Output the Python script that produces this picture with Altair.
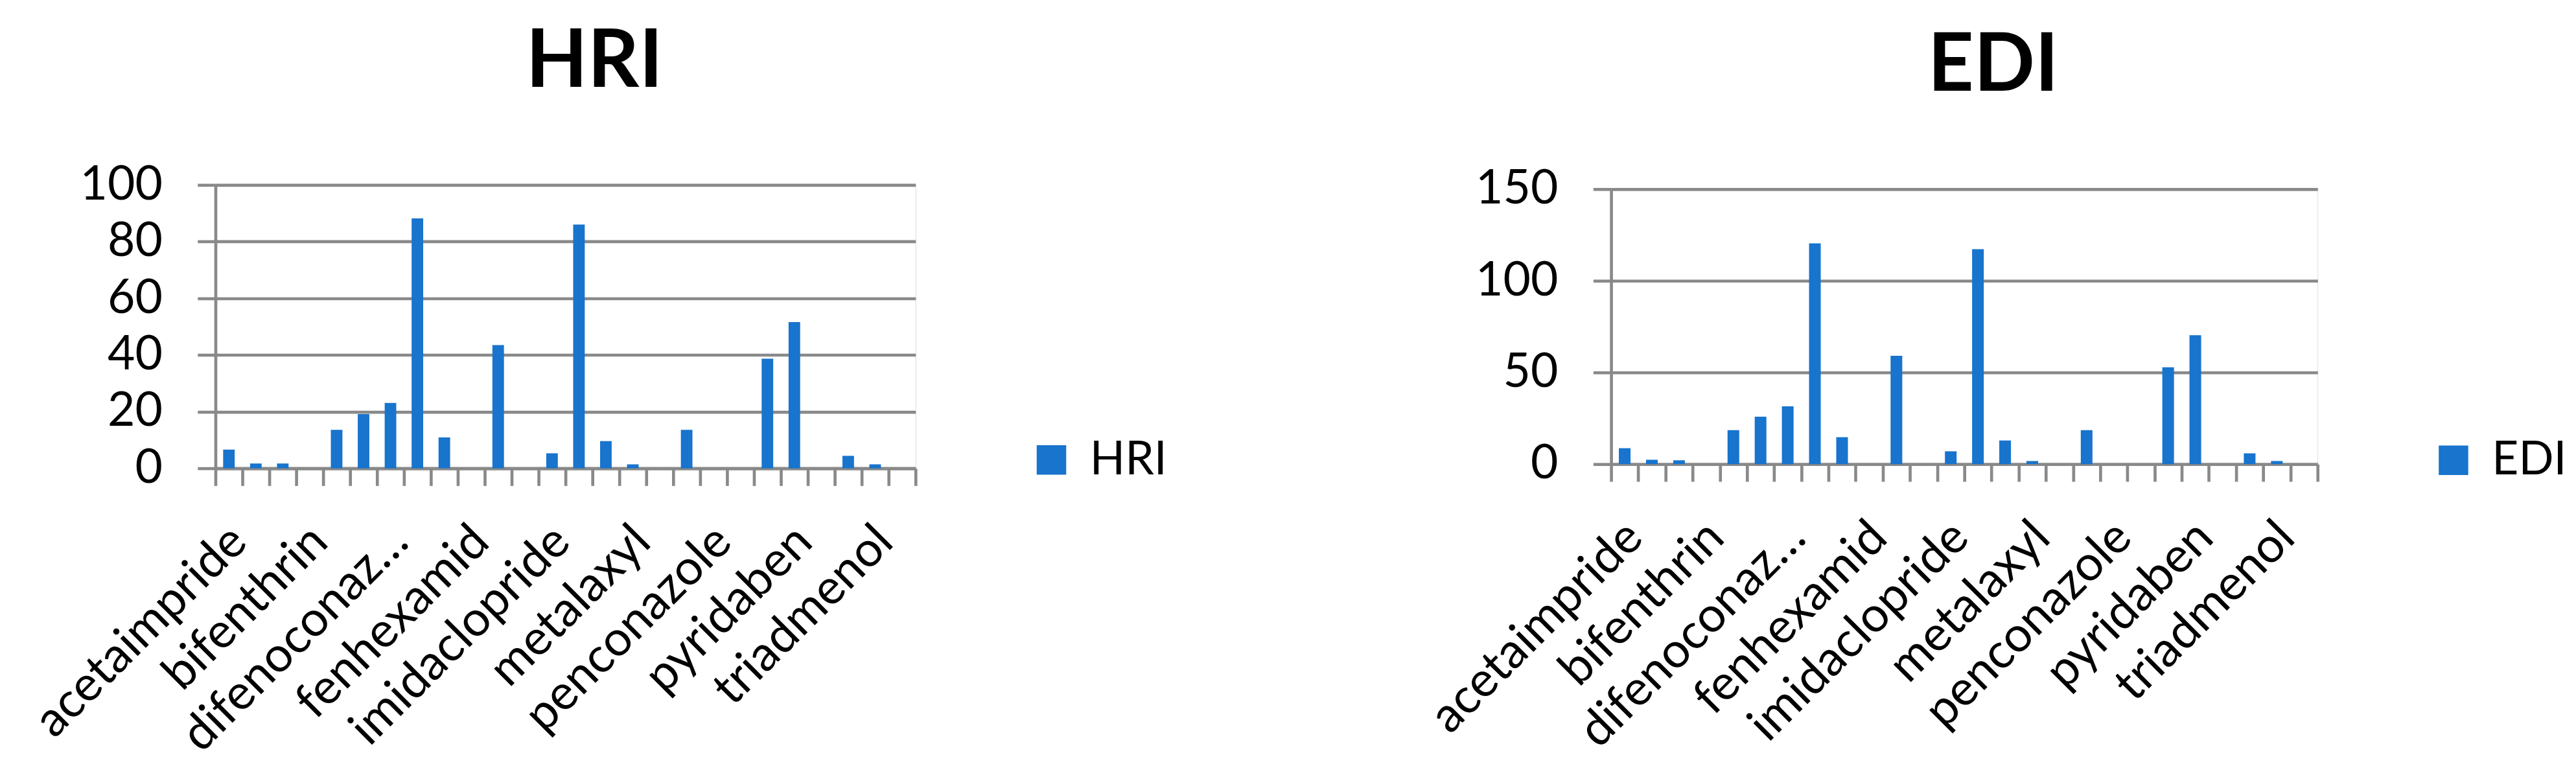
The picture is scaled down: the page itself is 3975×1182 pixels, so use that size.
import altair as alt
import pandas as pd

categories = [
    "acetaimpride", "unlabelled 2", "unlabelled 3", "bifenthrin", "unlabelled 5",
    "unlabelled 6", "difenoconazole", "unlabelled 8", "unlabelled 9", "fenhexamid",
    "unlabelled 11", "unlabelled 12", "imidaclopride", "unlabelled 14", "unlabelled 15",
    "metalaxyl", "unlabelled 17", "unlabelled 18", "penconazole", "unlabelled 20",
    "unlabelled 21", "pyridaben", "unlabelled 23", "unlabelled 24", "triadmenol",
    "unlabelled 26",
]
shown_labels = ["acetaimpride", "bifenthrin", "difenoconazole", "fenhexamid",
                "imidaclopride", "metalaxyl", "penconazole", "pyridaben", "triadmenol"]
hri_values = [6.6, 1.7, 1.7, 0, 13.6, 19.1, 23.1, 88.2, 10.9, 0, 43.5, 0, 5.3,
              86.0, 9.6, 1.4, 0, 13.6, 0, 0, 38.7, 51.6, 0, 4.4, 1.4, 0]
edi_values = [8.7, 2.4, 2.1, 0, 18.5, 25.9, 31.5, 120.4, 14.7, 0, 59.1, 0, 7.0,
              117.2, 12.9, 1.7, 0, 18.5, 0, 0, 52.8, 70.3, 0, 5.9, 1.7, 0]
hri_ticks = [0, 20, 40, 60, 80, 100]
edi_ticks = [0, 50, 100, 150]

BLUE = "#1874CD"
GREY = "#898989"
FONT = "Lato"

shown_js = "[" + ",".join("'" + s + "'" for s in shown_labels) + "]"
label_expr = (
    f"indexof({shown_js}, datum.value) >= 0 ? "
    "(datum.value == 'difenoconazole' ? 'difenoconaz\u2026' : datum.value) : ''"
)


def panel(name, values, ticks, width, height, legend_x, legend_y):
    df = pd.DataFrame({"pesticide": categories, "value": values, "series": name})
    return (
        alt.Chart(df)
        .mark_bar(width=alt.RelativeBandSize(0.43))
        .encode(
            x=alt.X(
                "pesticide:N",
                sort=categories,
                scale=alt.Scale(paddingInner=0, paddingOuter=0),
                axis=alt.Axis(
                    title=None,
                    labelExpr=label_expr,
                    labelAngle=-45,
                    labelAlign="right",
                    labelBaseline="middle",
                    labelFontSize=76,
                    labelFont=FONT,
                    labelColor="black",
                    labelPadding=75,
                    labelOffset=15,
                    labelOverlap=False,
                    labelLimit=1000,
                    tickBand="extent",
                    tickSize=27,
                    tickWidth=4.7,
                    tickColor=GREY,
                    domainColor=GREY,
                    domainWidth=4.7,
                    grid=False,
                ),
            ),
            y=alt.Y(
                "value:Q",
                scale=alt.Scale(domain=[ticks[0], ticks[-1]], nice=False),
                axis=alt.Axis(
                    title=None,
                    values=ticks,
                    labelFontSize=74,
                    labelFont=FONT,
                    labelColor="black",
                    labelPadding=55,
                    tickSize=28,
                    tickWidth=4.7,
                    tickColor=GREY,
                    domainColor=GREY,
                    domainWidth=4.7,
                    grid=True,
                    gridColor=GREY,
                    gridWidth=4.7,
                ),
            ),
            color=alt.Color(
                "series:N",
                scale=alt.Scale(range=[BLUE]),
                legend=alt.Legend(
                    title=None,
                    orient="none",
                    legendX=legend_x,
                    legendY=legend_y,
                    symbolType="square",
                    symbolSize=2116,
                    symbolStrokeWidth=0,
                    labelFontSize=72,
                    labelFont=FONT,
                    labelColor="black",
                    labelOffset=24,
                    padding=0,
                ),
            ),
        )
        .properties(
            width=width,
            height=height,
            title=alt.TitleParams(
                name, fontSize=125, font=FONT, fontWeight="bold", color="black",
                anchor="middle", dx=45, offset=90,
            ),
        )
    )


hri = panel("HRI", hri_values, hri_ticks, 1092, 442, 1268, 393)
edi = panel("EDI", edi_values, edi_ticks, 1102, 429, 1278, 387)

chart = (
    alt.hconcat(hri, edi, spacing=1085, center=True, bounds="flush")
    .resolve_scale(color="independent")
    .properties(padding={"left": 32, "top": 20, "right": 5, "bottom": 5})
    .configure_view(stroke=None)
    .configure(font=FONT, background="white")
)

chart.save("out.html", embed_options={"renderer": "svg", "actions": False})
